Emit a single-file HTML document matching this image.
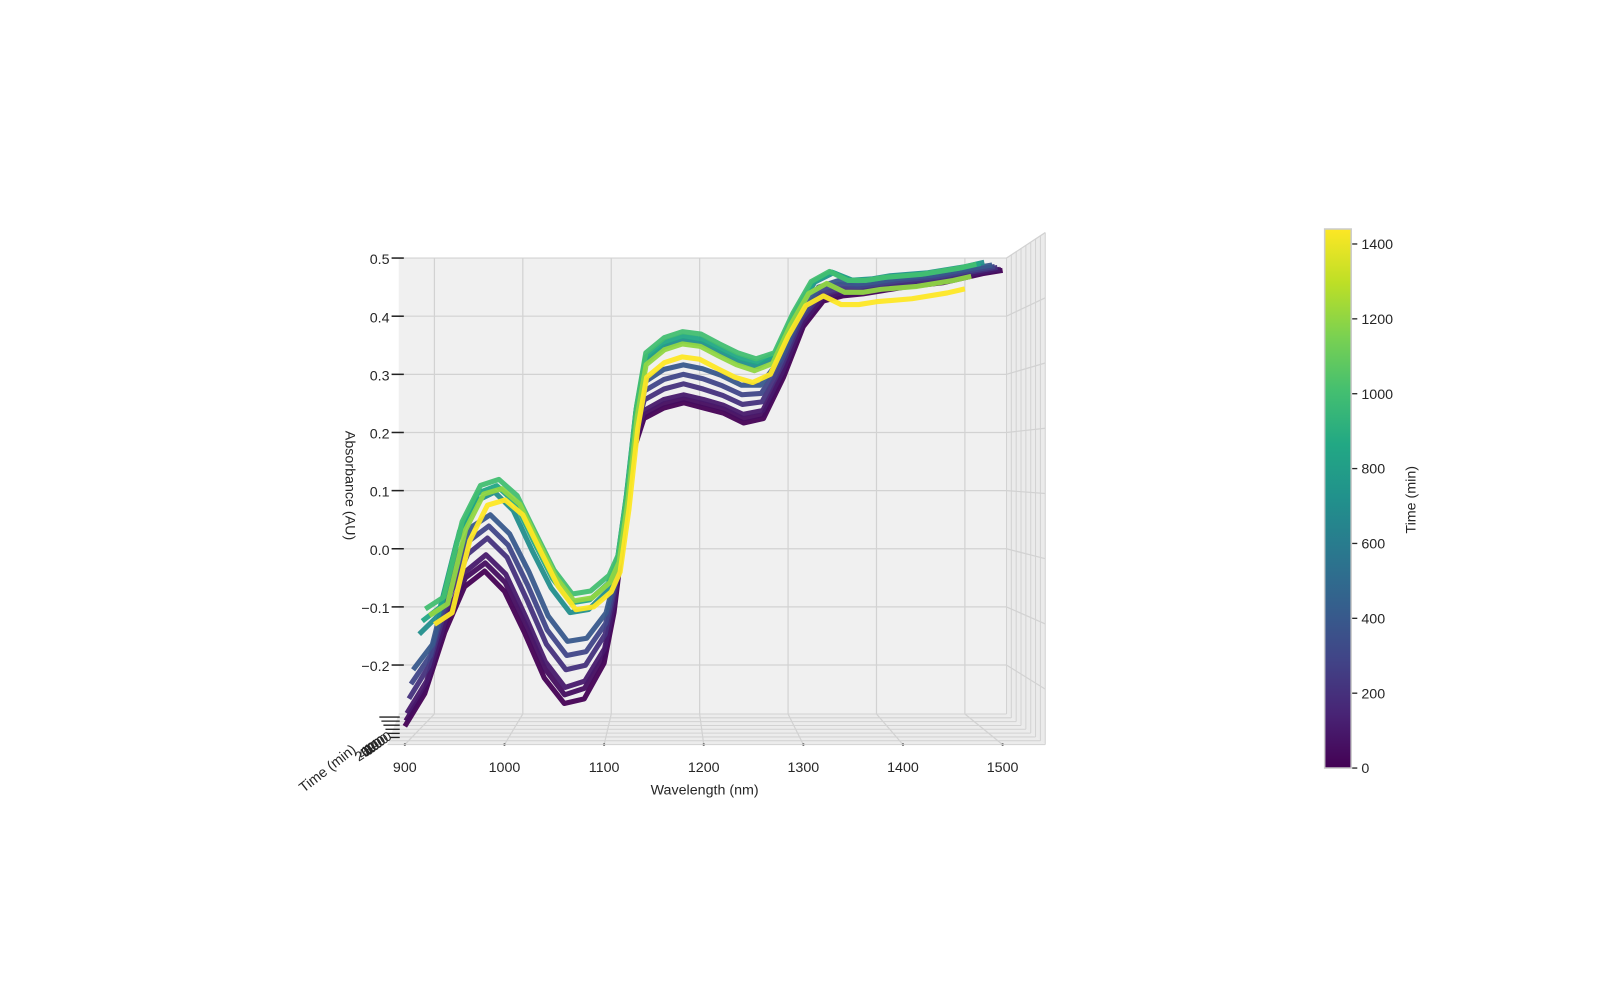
<!DOCTYPE html>
<html><head><meta charset="utf-8"><style>
html,body{margin:0;padding:0;background:#fff;}
svg{display:block;font-family:"Liberation Sans",sans-serif;}
</style></head><body>
<svg id="chart" width="1600" height="1000" viewBox="0 0 1569 980.4" preserveAspectRatio="none" xmlns="http://www.w3.org/2000/svg">
<defs>
<linearGradient id="vir" x1="0" y1="1" x2="0" y2="0">
<stop offset="0" stop-color="#440154"/><stop offset="0.1" stop-color="#482475"/><stop offset="0.2" stop-color="#414487"/><stop offset="0.3" stop-color="#355f8d"/><stop offset="0.4" stop-color="#2a788e"/><stop offset="0.5" stop-color="#21918c"/><stop offset="0.6" stop-color="#22a884"/><stop offset="0.7" stop-color="#44bf70"/><stop offset="0.8" stop-color="#7ad151"/><stop offset="0.9" stop-color="#bddf26"/><stop offset="1" stop-color="#fde725"/>
</linearGradient>
</defs>
<g id="panes"></g>
<g id="curves"></g>
<g id="labels"></g>
<g id="cbar"></g>
</svg>
<script>
const wavelengths=[900,920,940,960,980,1000,1020,1040,1060,1080,1100,1110,1120,1130,1140,1160,1180,1200,1220,1240,1260,1280,1300,1320,1340,1360,1380,1400,1440,1480,1500];
const times=[0,50,100,200,300,400,700,850,1000,1200,1440];
const spec0=[-0.257,-0.207,-0.113,-0.043,-0.019,-0.05,-0.113,-0.183,-0.222,-0.215,-0.16,-0.082,0.043,0.168,0.215,0.231,0.239,0.231,0.223,0.208,0.215,0.278,0.356,0.395,0.403,0.406,0.411,0.416,0.423,0.437,0.442];
const spec50=[-0.25,-0.2,-0.1,-0.03,-0.007,-0.037,-0.1,-0.17,-0.21,-0.2,-0.15,-0.073,0.049,0.173,0.221,0.238,0.245,0.238,0.23,0.215,0.221,0.283,0.36,0.398,0.406,0.409,0.413,0.418,0.425,0.439,0.444];
const spec100=[-0.24,-0.19,-0.09,-0.02,0.005,-0.025,-0.09,-0.16,-0.2,-0.19,-0.14,-0.065,0.055,0.178,0.228,0.245,0.252,0.245,0.236,0.222,0.228,0.288,0.363,0.402,0.41,0.412,0.416,0.421,0.428,0.441,0.446];
const spec200=[-0.22,-0.17,-0.065,0.005,0.03,0.0,-0.065,-0.135,-0.175,-0.168,-0.12,-0.048,0.065,0.19,0.245,0.262,0.27,0.262,0.252,0.238,0.242,0.298,0.37,0.41,0.418,0.418,0.422,0.427,0.434,0.446,0.451];
const spec300=[-0.2,-0.155,-0.042,0.025,0.048,0.018,-0.045,-0.115,-0.155,-0.149,-0.105,-0.039,0.072,0.2,0.26,0.278,0.286,0.279,0.268,0.254,0.256,0.304,0.375,0.418,0.427,0.424,0.428,0.433,0.439,0.45,0.455];
const spec400=[-0.18,-0.14,-0.02,0.045,0.065,0.035,-0.025,-0.095,-0.135,-0.13,-0.09,-0.03,0.08,0.21,0.275,0.295,0.302,0.296,0.285,0.27,0.27,0.31,0.38,0.425,0.435,0.43,0.433,0.438,0.444,0.455,0.46];
const spec700=[-0.13,-0.1,0.02,0.085,0.1,0.07,0.005,-0.055,-0.095,-0.09,-0.06,-0.015,0.095,0.23,0.31,0.335,0.345,0.34,0.325,0.31,0.303,0.322,0.39,0.44,0.455,0.443,0.445,0.45,0.455,0.465,0.472];
const spec850=[-0.112,-0.088,0.035,0.098,0.11,0.082,0.018,-0.042,-0.082,-0.077,-0.05,-0.01,0.099,0.236,0.32,0.345,0.355,0.35,0.335,0.32,0.312,0.326,0.392,0.444,0.46,0.447,0.447,0.452,0.457,0.467,0.474];
const spec1000=[-0.095,-0.075,0.05,0.11,0.12,0.093,0.031,-0.03,-0.07,-0.065,-0.039,-0.005,0.102,0.242,0.33,0.355,0.365,0.361,0.345,0.33,0.32,0.33,0.395,0.448,0.465,0.45,0.45,0.455,0.46,0.47,0.477];
const spec1200=[-0.11,-0.09,0.035,0.095,0.104,0.078,0.016,-0.045,-0.085,-0.08,-0.054,-0.02,0.085,0.225,0.313,0.338,0.348,0.344,0.328,0.313,0.303,0.315,0.38,0.433,0.45,0.435,0.435,0.44,0.445,0.455,0.462];
const spec1440=[-0.13,-0.11,0.014,0.075,0.084,0.058,-0.004,-0.065,-0.105,-0.10,-0.074,-0.04,0.067,0.207,0.295,0.32,0.33,0.326,0.31,0.295,0.286,0.30,0.365,0.418,0.435,0.42,0.42,0.425,0.43,0.44,0.447];
const spectra=[spec0,spec50,spec100,spec200,spec300,spec400,spec700,spec850,spec1000,spec1200,spec1440];
const xTicks=[900,1000,1100,1200,1300,1400,1500];
const zTicks=[-0.2,-0.1,0.0,0.1,0.2,0.3,0.4,0.5];
const cbTicks=[0,200,400,600,800,1000,1200,1400];
const tMax=1440;

const NS="http://www.w3.org/2000/svg";
function mk(tag,attrs,parent){const e=document.createElementNS(NS,tag);for(const k in attrs)e.setAttribute(k,attrs[k]);parent.appendChild(e);return e;}
const xF=nm=>397+(nm-900)*0.977, xB=nm=>426+(nm-900)*0.867;
const yF=z=>228+(0.5-z)*639.5, yB=z=>253+(0.5-z)*570;
function proj(nm,z,d){return [xF(nm)*(1-d)+xB(nm)*d, yF(z)*(1-d)+yB(z)*d];}
const vir=["#440154","#482475","#414487","#355f8d","#2a788e","#21918c","#22a884","#44bf70","#7ad151","#bddf26","#fde725"];
function hx(c){return [1,3,5].map(i=>parseInt(c.substr(i,2),16));}
function viridis(f){f=Math.max(0,Math.min(1,f));const p=f*10,i=Math.min(9,Math.floor(p)),t=p-i;const a=hx(vir[i]),b=hx(vir[i+1]);return "rgb("+a.map((v,k)=>Math.round(v+(b[k]-v)*t)).join(",")+")";}

const panes=document.getElementById('panes');
const back=mk('rect',{x:391,y:253,width:596,height:447,fill:'#f0f0f0'},panes);


const floor=mk('polygon',{points:'391,700 987,700 1025,730 380,730',fill:'#ececec'},panes);


const wall=mk('polygon',{points:'987,253 1025,228 1025,730 987,700',fill:'#ebebeb'},panes);


const g='#d2d2d2';
xTicks.forEach(nm=>{
  const l=mk('line',{x1:xB(nm),y1:253,x2:xB(nm),y2:700,stroke:g,'stroke-width':1.2},panes);
  
  
  const f=mk('line',{x1:xB(nm),y1:700,x2:xF(nm),y2:730,stroke:g,'stroke-width':1.2},panes);
  
  
  const dot=mk('circle',{cx:xF(nm),cy:730,r:1.2,fill:'#333'},panes);
  
  
});
zTicks.forEach(z=>{
  const l=mk('line',{x1:391,y1:yB(z),x2:987,y2:yB(z),stroke:g,'stroke-width':1.2},panes);
  
  
  const w=mk('line',{x1:987,y1:yB(z),x2:1025,y2:yF(z),stroke:g,'stroke-width':1.2},panes);
  
  
});
for(let k=0;k<=8;k++){
  const f=k/8;
  const v=mk('line',{x1:987+38*f,y1:253-25*f,x2:987+38*f,y2:700+30*f,stroke:g,'stroke-width':1},panes);
  
  
  const h=mk('line',{x1:391-11*f,y1:700+30*f,x2:987+38*f,y2:700+30*f,stroke:g,'stroke-width':1},panes);
  
  
}

const curves=document.getElementById('curves');
spectra.forEach((s,ci)=>{
  const d=times[ci]/tMax;
  const pts=wavelengths.map((nm,i)=>proj(nm,s[i],d).map(v=>v.toFixed(1)).join(',')).join(' ');
  const pl=mk('polyline',{points:pts,fill:'none',stroke:viridis(d),'stroke-width':ci===spectra.length-1?5:5,'stroke-linejoin':'round','stroke-opacity':0.95},curves);
  
  
});

const labels=document.getElementById('labels');
zTicks.forEach(z=>{
  const t=mk('line',{x1:384,y1:yB(z),x2:396,y2:yB(z),stroke:'#222','stroke-width':1.5},labels);
  
  
  const tx=mk('text',{x:382,y:yB(z)+6,'text-anchor':'end','font-size':14,fill:'#262626'},labels);
  tx.textContent=(z<0?'\u2212':'')+Math.abs(z).toFixed(1);
  
  
});
xTicks.forEach(nm=>{
  const tx=mk('text',{x:xF(nm),y:757,'text-anchor':'middle','font-size':14,fill:'#262626'},labels);
  tx.textContent=nm;
  
  
});
for(let k=0;k<6;k++){
  const t=mk('line',{x1:372+k*2,y1:703+k*4,x2:392,y2:703+k*4,stroke:'#222','stroke-width':1.3},labels);
  
  
}
['1400','1200','800','600','400','200','0'].forEach((s,k)=>{
  const tx=mk('text',{x:0,y:0,'text-anchor':'end','font-size':13,fill:'#262626',transform:'translate('+(385-k*3)+','+(724+k*2.2)+') rotate(-33)'},labels);
  tx.textContent=s;
  
  
});
const tt=mk('text',{x:0,y:0,'text-anchor':'middle','font-size':14,fill:'#262626',transform:'translate(324,757) rotate(-38)'},labels);
tt.textContent='Time (min)';


const xt=mk('text',{x:691,y:779,'text-anchor':'middle','font-size':14,fill:'#262626'},labels);
xt.textContent='Wavelength (nm)';


const zt=mk('text',{x:0,y:0,'text-anchor':'middle','font-size':14,fill:'#262626',transform:'translate(339,476) rotate(90)'},labels);
zt.textContent='Absorbance (AU)';



const cb=document.getElementById('cbar');
const cbY=t=>753-(t/200)*73.4;
const bar=mk('rect',{x:1299,y:cbY(1440),width:26,height:753-cbY(1440),fill:'url(#vir)',stroke:'#cccccc','stroke-width':1.5},cb);


cbTicks.forEach(t=>{
  const l=mk('line',{x1:1326,y1:cbY(t),x2:1331,y2:cbY(t),stroke:'#262626','stroke-width':1.3},cb);
  
  
  const tx=mk('text',{x:1335,y:cbY(t)+5,'font-size':14,fill:'#262626'},cb);
  tx.textContent=t;
  
  
});
const ct=mk('text',{x:0,y:0,'text-anchor':'middle','font-size':14,fill:'#262626',transform:'translate(1388,490) rotate(-90)'},cb);
ct.textContent='Time (min)';


</script>
</body></html>
